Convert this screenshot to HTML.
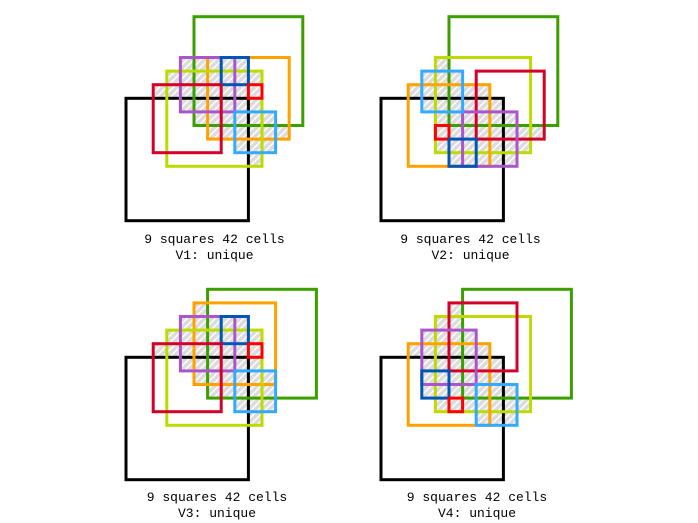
<!DOCTYPE html>
<html><head><meta charset="utf-8"><style>
html,body{margin:0;padding:0;background:#fff;width:698px;height:523px;overflow:hidden}
svg{display:block}
text{font-family:"Liberation Mono",monospace;font-size:13px;fill:#000}
</style></head><body>
<svg width="698" height="523" viewBox="0 0 698 523" xmlns="http://www.w3.org/2000/svg">
<defs>
<pattern id="h" patternUnits="userSpaceOnUse" width="5" height="5" patternTransform="rotate(45)">
<rect width="5" height="5" fill="#dcdcdc"/><rect width="1.4" height="5" fill="#ffffff"/>
</pattern>
</defs>
<g fill="none" stroke-width="3" stroke-linecap="square">
<g transform="translate(126,98.3)">
<g fill="url(#h)" stroke="none">
<rect x="54.4" y="-40.8" width="68" height="13.6"/>
<rect x="40.8" y="-27.2" width="95.2" height="13.6"/>
<rect x="27.2" y="-13.6" width="108.8" height="13.6"/>
<rect x="54.4" y="0" width="81.6" height="13.6"/>
<rect x="68" y="13.6" width="81.6" height="13.6"/>
<rect x="81.6" y="27.2" width="81.6" height="13.6"/>
<rect x="108.8" y="40.8" width="40.8" height="13.6"/>
<rect x="122.4" y="54.4" width="13.6" height="13.6"/>
</g>
<rect x="0" y="0" width="122.4" height="122.4" stroke="#000"/>
<rect x="68" y="-81.6" width="108.8" height="108.8" stroke="#3c9f00"/>
<rect x="81.6" y="-40.8" width="81.6" height="81.6" stroke="#ffa200"/>
<rect x="40.8" y="-27.2" width="95.2" height="95.2" stroke="#bfda00"/>
<rect x="54.4" y="-40.8" width="54.4" height="54.4" stroke="#aa55cc"/>
<rect x="95.2" y="-40.8" width="27.2" height="27.2" stroke="#0055b5"/>
<rect x="27.2" y="-13.6" width="68" height="68" stroke="#d4002a"/>
<rect x="122.4" y="-13.6" width="13.6" height="13.6" stroke="#ff0000"/>
<rect x="108.8" y="13.6" width="40.8" height="40.8" stroke="#33aaff"/>
</g>
<g transform="translate(381,98.3)">
<g fill="url(#h)" stroke="none">
<rect x="54.4" y="-40.8" width="13.6" height="13.6"/>
<rect x="40.8" y="-27.2" width="40.8" height="13.6"/>
<rect x="27.2" y="-13.6" width="81.6" height="13.6"/>
<rect x="40.8" y="0" width="81.6" height="13.6"/>
<rect x="54.4" y="13.6" width="81.6" height="13.6"/>
<rect x="54.4" y="27.2" width="108.8" height="13.6"/>
<rect x="54.4" y="40.8" width="95.2" height="13.6"/>
<rect x="68" y="54.4" width="68" height="13.6"/>
</g>
<rect x="0" y="0" width="122.4" height="122.4" stroke="#000"/>
<rect x="68" y="-81.6" width="108.8" height="108.8" stroke="#3c9f00"/>
<rect x="54.4" y="-40.8" width="95.2" height="95.2" stroke="#bfda00"/>
<rect x="27.2" y="-13.6" width="81.6" height="81.6" stroke="#ffa200"/>
<rect x="95.2" y="-27.2" width="68" height="68" stroke="#d4002a"/>
<rect x="81.6" y="13.6" width="54.4" height="54.4" stroke="#aa55cc"/>
<rect x="40.8" y="-27.2" width="40.8" height="40.8" stroke="#33aaff"/>
<rect x="54.4" y="27.2" width="13.6" height="13.6" stroke="#ff0000"/>
<rect x="68" y="40.8" width="27.2" height="27.2" stroke="#0055b5"/>
</g>
<g transform="translate(126,357.3)">
<g fill="url(#h)" stroke="none">
<rect x="68" y="-54.4" width="13.6" height="13.6"/>
<rect x="54.4" y="-40.8" width="68" height="13.6"/>
<rect x="40.8" y="-27.2" width="95.2" height="13.6"/>
<rect x="27.2" y="-13.6" width="108.8" height="13.6"/>
<rect x="54.4" y="0" width="81.6" height="13.6"/>
<rect x="68" y="13.6" width="81.6" height="13.6"/>
<rect x="81.6" y="27.2" width="68" height="13.6"/>
<rect x="108.8" y="40.8" width="40.8" height="13.6"/>
<rect x="122.4" y="54.4" width="13.6" height="13.6"/>
</g>
<rect x="0" y="0" width="122.4" height="122.4" stroke="#000"/>
<rect x="81.6" y="-68" width="108.8" height="108.8" stroke="#3c9f00"/>
<rect x="68" y="-54.4" width="81.6" height="81.6" stroke="#ffa200"/>
<rect x="40.8" y="-27.2" width="95.2" height="95.2" stroke="#bfda00"/>
<rect x="54.4" y="-40.8" width="54.4" height="54.4" stroke="#aa55cc"/>
<rect x="95.2" y="-40.8" width="27.2" height="27.2" stroke="#0055b5"/>
<rect x="27.2" y="-13.6" width="68" height="68" stroke="#d4002a"/>
<rect x="122.4" y="-13.6" width="13.6" height="13.6" stroke="#ff0000"/>
<rect x="108.8" y="13.6" width="40.8" height="40.8" stroke="#33aaff"/>
</g>
<g transform="translate(381,357.3)">
<g fill="url(#h)" stroke="none">
<rect x="68" y="-54.4" width="13.6" height="13.6"/>
<rect x="54.4" y="-40.8" width="27.2" height="13.6"/>
<rect x="40.8" y="-27.2" width="54.4" height="13.6"/>
<rect x="27.2" y="-13.6" width="81.6" height="13.6"/>
<rect x="40.8" y="0" width="81.6" height="13.6"/>
<rect x="40.8" y="13.6" width="81.6" height="13.6"/>
<rect x="40.8" y="27.2" width="95.2" height="13.6"/>
<rect x="54.4" y="40.8" width="95.2" height="13.6"/>
<rect x="95.2" y="54.4" width="40.8" height="13.6"/>
</g>
<rect x="0" y="0" width="122.4" height="122.4" stroke="#000"/>
<rect x="81.6" y="-68" width="108.8" height="108.8" stroke="#3c9f00"/>
<rect x="54.4" y="-40.8" width="95.2" height="95.2" stroke="#bfda00"/>
<rect x="27.2" y="-13.6" width="81.6" height="81.6" stroke="#ffa200"/>
<rect x="68" y="-54.4" width="68" height="68" stroke="#d4002a"/>
<rect x="40.8" y="-27.2" width="54.4" height="54.4" stroke="#aa55cc"/>
<rect x="40.8" y="13.6" width="27.2" height="27.2" stroke="#0055b5"/>
<rect x="68" y="40.8" width="13.6" height="13.6" stroke="#ff0000"/>
<rect x="95.2" y="27.2" width="40.8" height="40.8" stroke="#33aaff"/>
</g>
</g>
<g text-anchor="middle">
<text x="214.5" y="243">9 squares 42 cells</text>
<text x="214.5" y="259">V1: unique</text>
<text x="470.5" y="243">9 squares 42 cells</text>
<text x="470.5" y="259">V2: unique</text>
<text x="217" y="501">9 squares 42 cells</text>
<text x="217" y="517">V3: unique</text>
<text x="477" y="501">9 squares 42 cells</text>
<text x="477" y="517">V4: unique</text>
</g>
</svg>
</body></html>
